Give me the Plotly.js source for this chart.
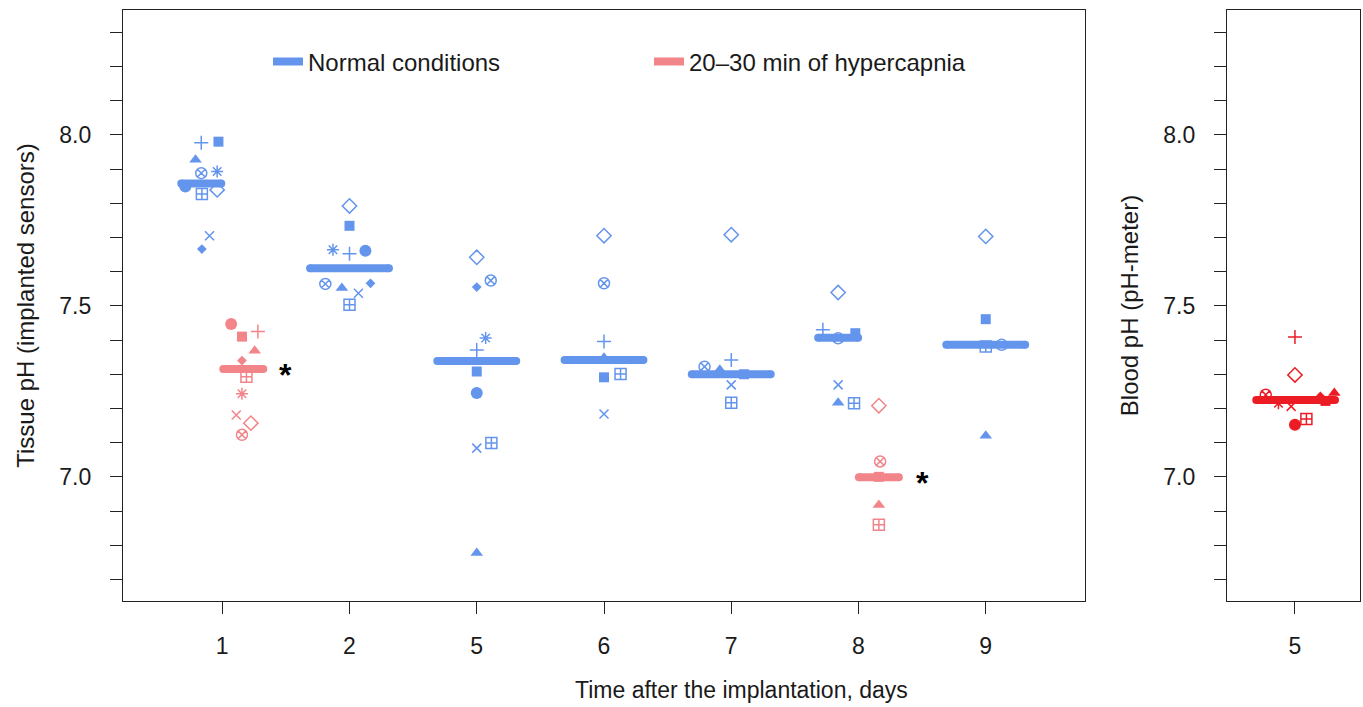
<!DOCTYPE html>
<html>
<head>
<meta charset="utf-8">
<script src="https://cdn.plot.ly/plotly-3.0.1.min.js"></script>
<style>html,body{margin:0;padding:0;background:#fff;}#chart{width:1363px;height:707px;}</style>
</head>
<body>
<div id="chart"></div>
<script>
// ---------- data ----------
const days = ['1', '2', '5', '6', '7', '8', '9'];
const bloodDay = ['5'];
// animal order: circle, square, triangle, filled diamond, plus, cross, asterisk, open diamond, square-plus, circle-x
const animalSymbols = ['circle', 'square', 'triangle-up', 'diamond', 'cross-thin-open', 'x-thin-open',
                       'asterisk-open', 'diamond-open', 'square-cross-open', 'circle-x-open'];
const animalSizes = [12, 10, 11, 7.5, 10, 9, 10, 11, 11, 11];

// tissue pH, normal conditions (one array per day, animal order above)
const normalDay1 = [7.849, 7.980, 7.927, 7.666, 7.977, 7.705, 7.893, 7.839, 7.827, 7.888];
const normalDay2 = [7.661, 7.734, 7.552, 7.566, 7.652, 7.537, 7.664, 7.792, 7.503, 7.564];
const normalDay5 = [7.245, 7.308, 6.777, 7.555, 7.371, 7.084, 7.406, 7.642, 7.099, 7.574];
const normalDay6 = [null, 7.291, 7.348, null, 7.396, 7.184, null, 7.705, 7.301, 7.566];
const normalDay7 = [null, 7.300, 7.313, null, 7.342, 7.269, null, 7.708, 7.217, 7.322];
const normalDay8 = [null, 7.420, 7.217, null, 7.430, 7.269, null, 7.539, 7.215, 7.405];
const normalDay9 = [null, 7.461, 7.120, null, null, null, null, 7.703, 7.381, 7.386];
// horizontal jitter of each point (category units)
const normalJit1 = [-0.29, -0.03, -0.21, -0.16, -0.165, -0.10, -0.04, -0.04, -0.16, -0.165];
const normalJit2 = [0.125, 0, -0.06, 0.165, 0, 0.07, -0.13, 0, 0, -0.19];
const normalJit5 = [0, 0, 0, 0, 0, 0, 0.07, 0, 0.115, 0.11];
const normalJit6 = [0, 0, 0, 0, 0, 0, 0, 0, 0.13, 0];
const normalJit7 = [0, 0.10, -0.09, 0, 0, 0, 0, 0, 0, -0.21];
const normalJit8 = [0, -0.025, -0.16, 0, -0.28, -0.16, 0, -0.16, -0.035, -0.16];
const normalJit9 = [0, 0, 0, 0, 0, 0, 0, 0, 0, 0.125];

// tissue pH, 20-30 min of hypercapnia
const hyperDay1 = [7.447, 7.410, 7.369, 7.340, 7.425, 7.181, 7.243, 7.157, 7.293, 7.123];
const hyperDay8 = [null, 7.000, 6.918, null, null, null, null, 7.208, 6.860, 7.045];
const hyperJit1 = [0.07, 0.155, 0.255, 0.155, 0.28, 0.11, 0.155, 0.225, 0.19, 0.155];
const hyperJit8 = [0.16, 0.16, 0.16, 0.16, 0.16, 0.16, 0.16, 0.16, 0.16, 0.17];

// blood pH (pH-meter), day 5
const bloodDay5 = [7.152, 7.222, 7.245, 7.235, 7.409, 7.206, 7.215, 7.298, 7.169, 7.240];
const bloodJit5 = [0, 0.24, 0.31, 0.2, 0, -0.03, -0.13, 0, 0.09, -0.23];

// group means (horizontal bars)
const normalMeans = [7.858, 7.610, 7.339, 7.342, 7.300, 7.407, 7.386];
const hyperMeans = [7.315, null, null, null, null, 6.999, null];
const bloodMeans = [7.225];

const yTickVals = [6.7, 6.8, 6.9, 7.0, 7.1, 7.2, 7.3, 7.4, 7.5, 7.6, 7.7, 7.8, 7.9, 8.0, 8.1, 8.2, 8.3];
const yTickText = ['', '', '', '7.0', '', '', '', '', '7.5', '', '', '', '', '8.0', '', '', ''];

// ---------- styling ----------
const BLUE = '#6495ED';
const PINK = '#F28589';
const RED = '#EC1C24';
const FONT = 'Liberation Sans, Arial, Helvetica, sans-serif';
const TXT = '#1a1a1a';

const normalDays = [normalDay1, normalDay2, normalDay5, normalDay6, normalDay7, normalDay8, normalDay9];
const normalJits = [normalJit1, normalJit2, normalJit5, normalJit6, normalJit7, normalJit8, normalJit9];
const hyperDays = [hyperDay1, null, null, null, null, hyperDay8, null];
const hyperJits = [hyperJit1, null, null, null, null, hyperJit8, null];

const traces = [];

function pointTraces(dayArrays, jitArrays, color, xaxis, yaxis) {
  animalSymbols.forEach((sym, a) => {
    const xs = [], ys = [];
    dayArrays.forEach((arr, d) => {
      if (!arr || arr[a] == null) return;
      xs.push(d + 1 + jitArrays[d][a]);
      ys.push(arr[a]);
    });
    const open = sym.indexOf('open') >= 0;
    traces.push({
      type: 'scatter', mode: 'markers', x: xs, y: ys, xaxis: xaxis, yaxis: yaxis,
      showlegend: false, hoverinfo: 'y',
      marker: {symbol: sym, size: animalSizes[a], color: color,
               line: {color: color, width: open ? 1.5 : 0}}
    });
  });
}

pointTraces(normalDays, normalJits, BLUE, 'x', 'y');
pointTraces(hyperDays, hyperJits, PINK, 'x', 'y');
pointTraces([bloodDay5], [bloodJit5], RED, 'x2', 'y2');

// mean bars (line + round end caps)
function meanTrace(means, centerOff, halfW, color, name, showlegend, xaxis, yaxis) {
  const xs = [], ys = [];
  means.forEach((m, d) => {
    if (m == null) return;
    const c = d + 1 + centerOff[d];
    xs.push(c - halfW[d], c + halfW[d], null);
    ys.push(m, m, null);
  });
  traces.push({
    type: 'scatter', mode: 'lines', x: xs, y: ys, xaxis: xaxis, yaxis: yaxis,
    name: name, showlegend: showlegend, hoverinfo: 'y',
    line: {color: color, width: 8}
  });
  traces.push({
    type: 'scatter', mode: 'markers', x: xs, y: ys, xaxis: xaxis, yaxis: yaxis,
    showlegend: false, hoverinfo: 'skip',
    marker: {symbol: 'circle', size: 8, color: color, line: {width: 0}}
  });
}
meanTrace(normalMeans, [-0.165, 0, 0, 0, 0, -0.16, 0], [0.157, 0.31, 0.31, 0.31, 0.31, 0.157, 0.31],
          BLUE, 'Normal conditions', true, 'x', 'y');
meanTrace(hyperMeans, [0.165, 0, 0, 0, 0, 0.16, 0], [0.157, 0, 0, 0, 0, 0.157, 0],
          PINK, '20–30 min of hypercapnia', true, 'x', 'y');
meanTrace(bloodMeans, [0.005], [0.31], RED, 'Blood', false, 'x2', 'y2');

const L = 123, R = 3, T = 10, B = 106;
const W = 1363 - L - R;
const H = 707 - T - B;
const px = v => (v - L) / W;

const axisCommon = {
  showline: true, mirror: true, linecolor: '#222', linewidth: 1.3,
  ticks: 'outside', ticklen: 12, tickwidth: 1.2, tickcolor: '#222',
  showgrid: false, zeroline: false,
  tickfont: {family: FONT, size: 23, color: TXT}
};

const layout = {
  width: 1363, height: 707,
  margin: {l: L, r: R, t: T, b: B},
  paper_bgcolor: '#fff', plot_bgcolor: '#fff',
  font: {family: FONT, size: 23, color: TXT},
  showlegend: true,
  legend: {
    orientation: 'h', x: px(268), xanchor: 'left', y: 1 - (62 - T) / H, yanchor: 'middle',
    bgcolor: 'rgba(0,0,0,0)', font: {family: FONT, size: 24, color: TXT},
    entrywidth: 336, entrywidthmode: 'pixels', traceorder: 'normal'
  },
  xaxis: Object.assign({}, axisCommon, {
    domain: [0, px(1085)], range: [0.22, 7.78],
    tickvals: [1, 2, 3, 4, 5, 6, 7], ticktext: days, ticklabelstandoff: 12
  }),
  yaxis: Object.assign({}, axisCommon, {
    range: [6.637, 8.365], tickvals: yTickVals, ticktext: yTickText, ticklabelstandoff: 14,
    title: {text: 'Tissue pH (implanted sensors)', font: {family: FONT, size: 24, color: TXT}, standoff: 17}
  }),
  xaxis2: Object.assign({}, axisCommon, {
    domain: [px(1227), 1], range: [0.465, 1.512], anchor: 'y2',
    tickvals: [1], ticktext: bloodDay, ticklabelstandoff: 12
  }),
  yaxis2: Object.assign({}, axisCommon, {
    anchor: 'x2', range: [6.637, 8.365], tickvals: yTickVals, ticktext: yTickText, ticklabelstandoff: 14,
    title: {text: 'Blood pH (pH-meter)', font: {family: FONT, size: 24, color: TXT}, standoff: 17}
  }),
  annotations: [
    {x: 0.5, y: -(690 - (T + H)) / H, xref: 'paper', yref: 'paper', xanchor: 'center', yanchor: 'middle',
     text: 'Time after the implantation, days', showarrow: false,
     font: {family: FONT, size: 23, color: TXT}},
    {x: 1.5, y: hyperMeans[0], xref: 'x', yref: 'y', text: '<b>*</b>', showarrow: false,
     font: {family: FONT, size: 32, color: '#000'}, yshift: -6},
    {x: 6.5, y: hyperMeans[5], xref: 'x', yref: 'y', text: '<b>*</b>', showarrow: false,
     font: {family: FONT, size: 32, color: '#000'}, yshift: -6}
  ]
};

Plotly.newPlot('chart', traces, layout, {displayModeBar: false, responsive: false});
</script>
</body>
</html>
